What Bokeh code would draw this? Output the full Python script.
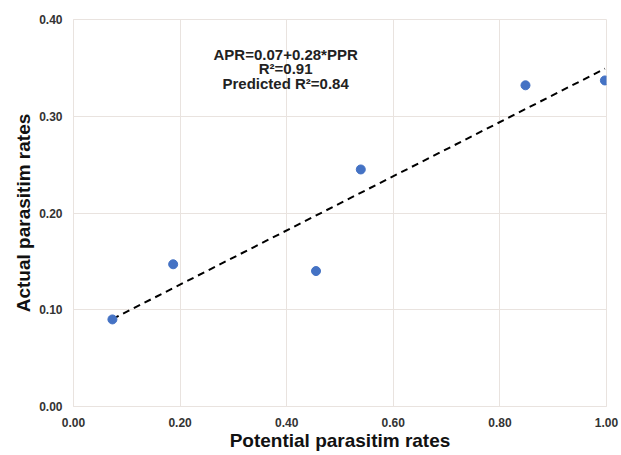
import numpy as np
from bokeh.plotting import figure
from bokeh.models import Range1d, NumeralTickFormatter, FixedTicker, Label
from bokeh.embed import file_html
from bokeh.resources import INLINE

# Data
potential_rates = [0.073, 0.187, 0.455, 0.539, 0.848, 0.997]
actual_rates = [0.090, 0.147, 0.140, 0.245, 0.332, 0.337]
x_ticks = [0.0, 0.2, 0.4, 0.6, 0.8, 1.0]
y_ticks = [0.0, 0.1, 0.2, 0.3, 0.4]
fit_intercept = 0.07
fit_slope = 0.28
annotation_lines = ["APR=0.07+0.28*PPR", "R\u00b2=0.91", "Predicted R\u00b2=0.84"]

FONT = "Liberation Sans"
GRID = "#e9e3df"

p = figure(width=621, height=455, output_backend="svg", toolbar_location=None,
           x_range=Range1d(0, 1.0), y_range=Range1d(0, 0.40),
           min_border_left=73, min_border_right=15, min_border_top=19, min_border_bottom=49)

p.background_fill_color = "white"
p.border_fill_color = "white"
p.outline_line_color = GRID
p.outline_line_width = 1

for ax in (p.xaxis[0], p.yaxis[0]):
    ax.axis_line_color = GRID
    ax.major_tick_line_color = None
    ax.minor_tick_line_color = None
    ax.major_tick_out = 0
    ax.major_tick_in = 0
    ax.minor_tick_out = 0
    ax.minor_tick_in = 0
    ax.major_label_text_font = FONT
    ax.major_label_text_font_style = "bold"
    ax.major_label_text_font_size = "12px"
    ax.major_label_text_color = "#333333"
    ax.axis_label_text_font = FONT
    ax.axis_label_text_font_style = "bold"
    ax.axis_label_text_font_size = "19px"
    ax.axis_label_text_color = "#111111"
    ax.formatter = NumeralTickFormatter(format="0.00")

p.xaxis[0].ticker = FixedTicker(ticks=x_ticks)
p.yaxis[0].ticker = FixedTicker(ticks=y_ticks)
p.xaxis.axis_label = "Potential parasitim rates"
p.yaxis.axis_label = "Actual parasitim rates"
p.xaxis.major_label_standoff = 11
p.xaxis.axis_label_standoff = 0
p.yaxis.major_label_standoff = 11
p.yaxis.axis_label_standoff = 2

p.xgrid.grid_line_color = GRID
p.ygrid.grid_line_color = GRID
p.xgrid.ticker = FixedTicker(ticks=x_ticks)
p.ygrid.ticker = FixedTicker(ticks=y_ticks)

# trend line
xs = np.array([min(potential_rates), max(potential_rates)])
ys = fit_intercept + fit_slope * xs
p.line(xs, ys, line_color="black", line_width=2, line_dash="7 5")

p.scatter(potential_rates, actual_rates, size=9, fill_color="#4472C4",
          line_color="#4472C4")

for i, t in enumerate(annotation_lines):
    p.add_layout(Label(x=0.398, y=0.364, y_offset=-14.5 * i, text=t,
                       text_align="center", text_baseline="middle",
                       text_font=FONT, text_font_style="bold",
                       text_font_size="15px", text_color="#222222"))

open("out.html", "w").write(file_html(p, INLINE))
